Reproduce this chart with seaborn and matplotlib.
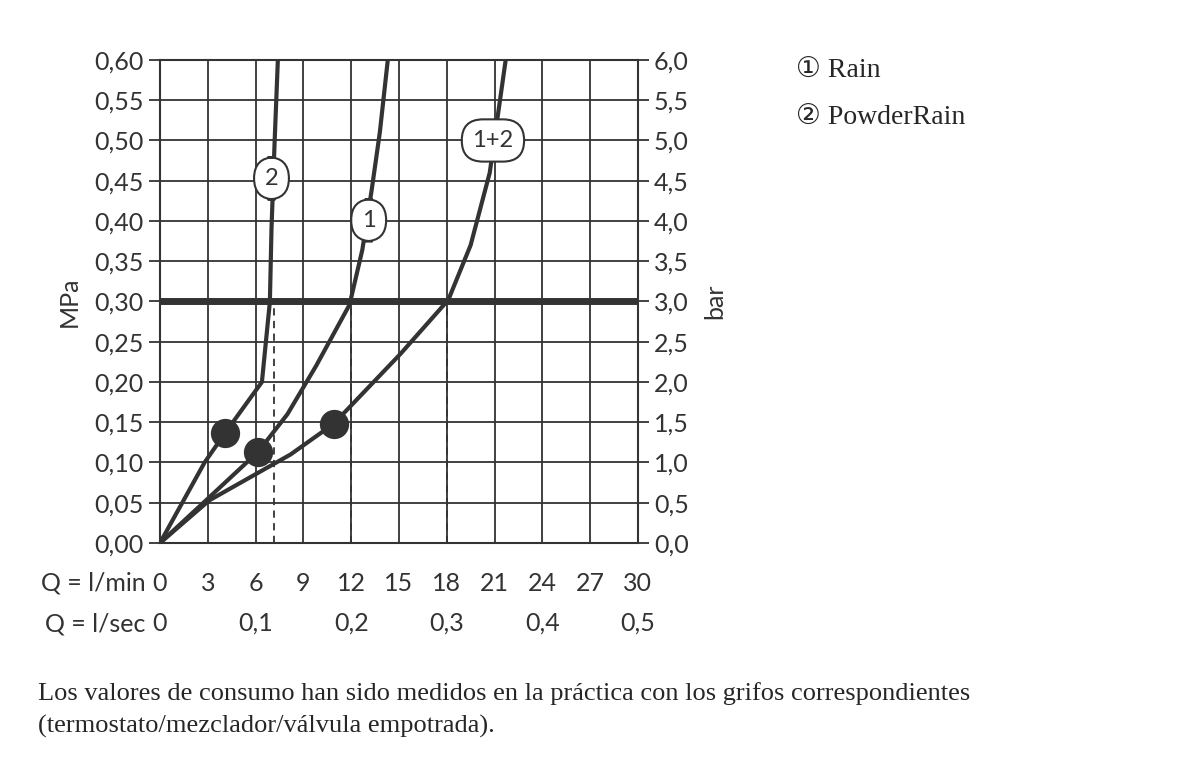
import numpy as np
import pandas as pd
import seaborn as sns
import matplotlib.pyplot as plt

# flow (l/min) vs pressure (MPa)
curve2_q = [0, 2.8, 4.1, 6.4, 6.9, 7.0, 7.2, 7.4]
curve2_p = [0, 0.10, 0.137, 0.20, 0.30, 0.39, 0.50, 0.60]
curve1_q = [0, 3.0, 6.15, 8.0, 9.8, 11.9, 12.7, 13.3, 13.8, 14.3]
curve1_p = [0, 0.055, 0.113, 0.16, 0.22, 0.296, 0.364, 0.44, 0.51, 0.60]
curve12_q = [0, 3.1, 8.2, 10.9, 15.1, 18.1, 19.5, 20.7, 21.7]
curve12_p = [0, 0.053, 0.11, 0.148, 0.235, 0.302, 0.37, 0.46, 0.60]
dots_q = [4.1, 6.15, 10.9]
dots_p = [0.137, 0.113, 0.148]
dash_q = [7.15, 12, 18]
nominal_p = 0.3

yticks = np.round(np.arange(0, 0.601, 0.05), 2)
lmin_ticks = list(range(0, 31, 3))
lsec_ticks = [0, 6, 12, 18, 24, 30]
lsec_labels = ["0", "0,1", "0,2", "0,3", "0,4", "0,5"]
legend_items = ["\u2460 Rain", "\u2461 PowderRain"]
note = ("Los valores de consumo han sido medidos en la práctica con los grifos correspondientes\n"
        "(termostato/mezclador/válvula empotrada).")

sns.set_style("white")
plt.rcParams['font.family'] = ['Lato', 'DejaVu Sans']
ink = "#333333"
fs = 18

fig = plt.figure(figsize=(12, 7.65), dpi=100)
ax = fig.add_axes([0.1333, 0.2902, 0.3983, 0.6314])

for q, p in [(curve2_q, curve2_p), (curve1_q, curve1_p), (curve12_q, curve12_p)]:
    df = pd.DataFrame({"q": q, "p": p})
    sns.lineplot(data=df, x="q", y="p", ax=ax, color=ink, lw=3, sort=False,
                 estimator=None, zorder=3)
sns.scatterplot(x=dots_q, y=dots_p, ax=ax, color=ink, s=380, zorder=4, edgecolor=ink)

for q in dash_q:
    ax.plot([q, q], [0, nominal_p], color=ink, lw=1.3, ls=(0, (4, 3)), zorder=2)
ax.axhline(nominal_p, color=ink, lw=5, zorder=3)

ax.set_xlim(0, 30)
ax.set_ylim(0, 0.6)
ax.set_xticks(lmin_ticks)
ax.set_yticks(yticks)
ax.grid(True, color=ink, lw=1.3)
ax.set_xticklabels([])
ax.set_yticklabels([f"{v:.2f}".replace(".", ",") for v in yticks], fontsize=fs, color=ink)
ax.tick_params(axis="y", left=True, length=8, color=ink, width=1.3)
ax.tick_params(axis="x", bottom=False)
for s in ax.spines.values():
    s.set_color(ink)
    s.set_linewidth(1.5)
ax.set_xlabel("")
ax.set_ylabel("MPa", fontsize=fs, color=ink, labelpad=10)

ax2 = ax.twinx()
ax2.set_ylim(0, 6)
ax2.set_yticks(yticks * 10)
ax2.set_yticklabels([f"{v * 10:.1f}".replace(".", ",") for v in yticks], fontsize=fs, color=ink)
ax2.tick_params(axis="y", right=True, length=8, color=ink, width=1.3)
ax2.set_ylabel("bar", fontsize=fs, color=ink, labelpad=10, rotation=90)
ax2.grid(False)
for s in ax2.spines.values():
    s.set_visible(False)

# curve labels
bbox_kw = dict(boxstyle="round,pad=0.45,rounding_size=0.9", fc="white", ec=ink, lw=1.5)
ax.text(7.0, 0.453, "2", ha="center", va="center", fontsize=17, color=ink, bbox=bbox_kw, zorder=5)
ax.text(13.1, 0.401, "1", ha="center", va="center", fontsize=17, color=ink, bbox=bbox_kw, zorder=5)
ax.text(20.9, 0.500, "1+2", ha="center", va="center", fontsize=17, color=ink, bbox=bbox_kw, zorder=5)

# bottom axis rows
for q in lmin_ticks:
    ax.text(q, -0.05, str(q), ha="center", va="center", fontsize=fs, color=ink)
for q, lab in zip(lsec_ticks, lsec_labels):
    ax.text(q, -0.10, lab, ha="center", va="center", fontsize=fs, color=ink)
ax.text(-0.9, -0.05, "Q = l/min", ha="right", va="center", fontsize=fs, color=ink)
ax.text(-0.9, -0.10, "Q = l/sec", ha="right", va="center", fontsize=fs, color=ink)

serif = ['Liberation Serif', 'DejaVu Sans']
for i, item in enumerate(legend_items):
    fig.text(0.663, 0.908 - i * 0.062, item, fontsize=20, family=serif, va="center")
fig.text(0.032, 0.035, note, fontsize=19, family=serif, va="bottom", linespacing=1.55)

fig.savefig("out.png", dpi=100)
